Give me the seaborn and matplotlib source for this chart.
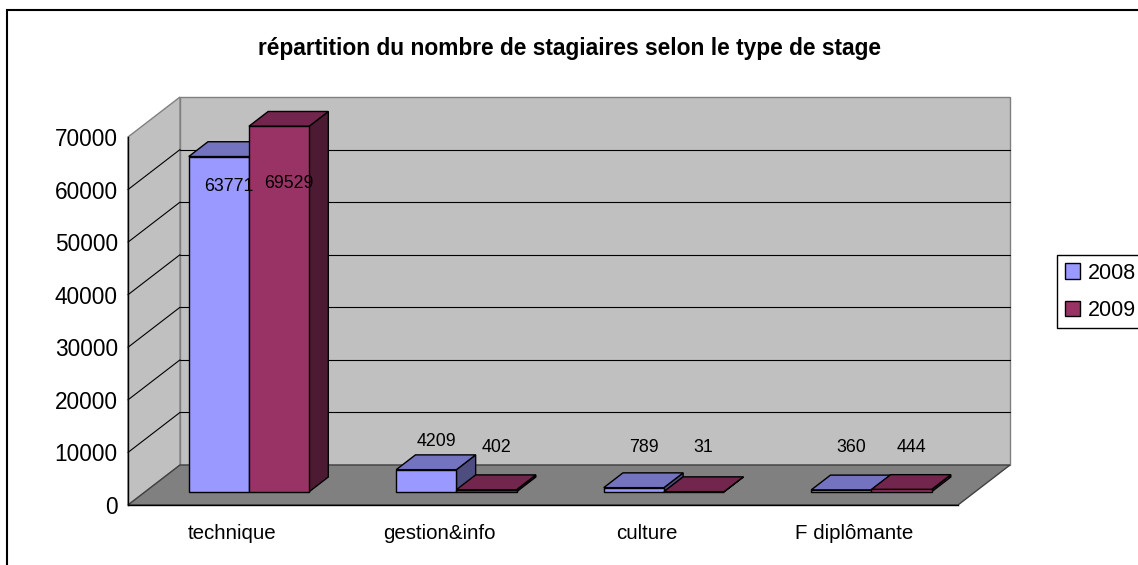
import matplotlib
matplotlib.use("Agg")
import matplotlib.pyplot as plt
import matplotlib.transforms as mtransforms
from matplotlib.patches import Polygon, Rectangle, Patch
import pandas as pd
import seaborn as sns

# data
categories = ["technique", "gestion&info", "culture", "F diplômante"]
years = ["2008", "2009"]
values_2008 = [63771, 4209, 789, 360]
values_2009 = [69529, 402, 31, 444]
yticks = [0, 10000, 20000, 30000, 40000, 50000, 60000, 70000]
title = "répartition du nombre de stagiaires selon le type de stage"

front_colors = ["#9999FF", "#993366"]
top_colors = ["#7373BF", "#73264D"]
side_colors = ["#4D4D80", "#4D1A33"]

df = pd.DataFrame({
    "type": categories * 2,
    "année": [years[0]] * len(categories) + [years[1]] * len(categories),
    "stagiaires": values_2008 + values_2009,
})

sns.set_style("white")
plt.rcParams["font.family"] = ["Liberation Sans", "DejaVu Sans"]
plt.rcParams["text.color"] = "black"
plt.rcParams["xtick.color"] = "black"
plt.rcParams["ytick.color"] = "black"
plt.rcParams["axes.labelcolor"] = "black"

W, H = 1138, 565
fig = plt.figure(figsize=(W / 100, H / 100), dpi=100)
ax = fig.add_axes([128 / W, 60 / H, 830 / W, 368 / H])

sns.barplot(data=df, x="type", y="stagiaires", hue="année", hue_order=years,
            palette=front_colors, saturation=1, width=0.58, edgecolor="black",
            linewidth=1, legend=False, ax=ax)

ax.set_xlim(-0.5, len(categories) - 0.5)
ax.set_ylim(yticks[0], yticks[-1])
ax.set_facecolor("none")

# fake 3D depth, in pixels
wall_dx, wall_dy = 52, 40
front_f, back_f = 0.33, 0.70
ppx = ax.bbox.width / len(categories)
ppy = ax.bbox.height / (yticks[-1] - yticks[0])
dxd, dyd = wall_dx / ppx, wall_dy / ppy
x_lo, x_hi = ax.get_xlim()
y_top = yticks[-1]

# walls + floor
ax.add_patch(Rectangle((x_lo + dxd, dyd), x_hi - x_lo, y_top, facecolor="#C0C0C0",
                       edgecolor="#808080", lw=1, zorder=0.1, clip_on=False))
ax.add_patch(Polygon([(x_lo, 0), (x_lo + dxd, dyd), (x_lo + dxd, y_top + dyd), (x_lo, y_top)],
                     facecolor="#C0C0C0", edgecolor="#808080", lw=1, zorder=0.2, clip_on=False))
ax.add_patch(Polygon([(x_lo, 0), (x_hi, 0), (x_hi + dxd, dyd), (x_lo + dxd, dyd)],
                     facecolor="#808080", edgecolor="#404040", lw=1, zorder=0.3, clip_on=False))
for t in yticks[1:-1]:
    ax.plot([x_lo + dxd, x_hi + dxd], [t + dyd, t + dyd], color="black", lw=0.8, zorder=0.4, clip_on=False)
    ax.plot([x_lo, x_lo + dxd], [t, t + dyd], color="black", lw=0.8, zorder=0.4, clip_on=False)

# bars: shift front faces into depth, add top + side faces, labels
fdx, fdy = front_f * dxd, front_f * dyd
bdx, bdy = back_f * dxd, back_f * dyd
shift = mtransforms.offset_copy(ax.transData, fig=fig, x=front_f * wall_dx,
                                y=front_f * wall_dy, units="dots")
for j, cont in enumerate(ax.containers):
    for i, p in enumerate(cont.patches):
        z = 2 + i * 0.1 + j * 0.03
        x0 = p.get_x()
        x1 = x0 + p.get_width()
        h = p.get_height()
        p.set_transform(shift)
        p.set_zorder(z + 0.02)
        p.set_clip_on(False)
        ax.add_patch(Polygon([(x1 + fdx, fdy), (x1 + bdx, bdy), (x1 + bdx, h + bdy), (x1 + fdx, h + fdy)],
                             facecolor=side_colors[j], edgecolor="black", lw=1, zorder=z, clip_on=False))
        ax.add_patch(Polygon([(x0 + fdx, h + fdy), (x1 + fdx, h + fdy), (x1 + bdx, h + bdy), (x0 + bdx, h + bdy)],
                             facecolor=top_colors[j], edgecolor="black", lw=1, zorder=z + 0.01, clip_on=False))

        cx = (x0 + x1) / 2 + (fdx + bdx) / 2
        top_mid = h + (fdy + bdy) / 2
        ly = max(h, 3000) + (fdy + bdy) / 2 + 21 / ppy
        if ly > y_top:
            ly = min(top_mid - 37 / ppy, y_top - 46 / ppy)
        ax.text(cx, ly, f"{int(h)}", ha="center", va="center", fontsize=12.8,
                color="black", zorder=5)

# axes styling
for s in ["top", "right"]:
    ax.spines[s].set_visible(False)
for s in ["left", "bottom"]:
    ax.spines[s].set_color("black")
    ax.spines[s].set_linewidth(1)
ax.set_yticks(yticks)
ax.set_yticklabels([str(t) for t in yticks])
ax.tick_params(axis="y", length=4.3, width=1, pad=3, labelsize=16.3, color="black", labelcolor="black")
ax.set_xticks([x_lo + k for k in range(len(categories) + 1)])
ax.set_xticklabels([])
ax.tick_params(axis="x", which="major", length=4.3, width=1, color="black")
ax.set_xticks(range(len(categories)), minor=True)
ax.set_xticklabels(categories, minor=True)
ax.tick_params(axis="x", which="minor", length=0, pad=14, labelsize=14.8, labelcolor="black")
ax.set_xlabel("")
ax.set_ylabel("")
ax.grid(False)

fig.text(570 / W, 1 - 48 / H, title, ha="center", va="center", fontsize=16.4,
         fontweight="bold", color="black")

handles = [Patch(facecolor=c, edgecolor="black", lw=1) for c in front_colors]
leg = fig.legend(handles, years, loc="upper left", bbox_to_anchor=(1057 / W, 1 - 255 / H),
                 frameon=True, fancybox=False, framealpha=1, edgecolor="black",
                 fontsize=15.5, handlelength=0.7, handleheight=0.7, handletextpad=0.4,
                 borderaxespad=0, borderpad=0.35, labelspacing=0.75)
leg.get_frame().set_linewidth(1)
for t in leg.get_texts():
    t.set_color("black")

# chart area border
fig.add_artist(Rectangle((7 / W, -0.05), 1.2, 1 - 10 / H + 0.05, transform=fig.transFigure,
                         fill=False, edgecolor="black", lw=1.5))

fig.savefig("out.png", dpi=100)
